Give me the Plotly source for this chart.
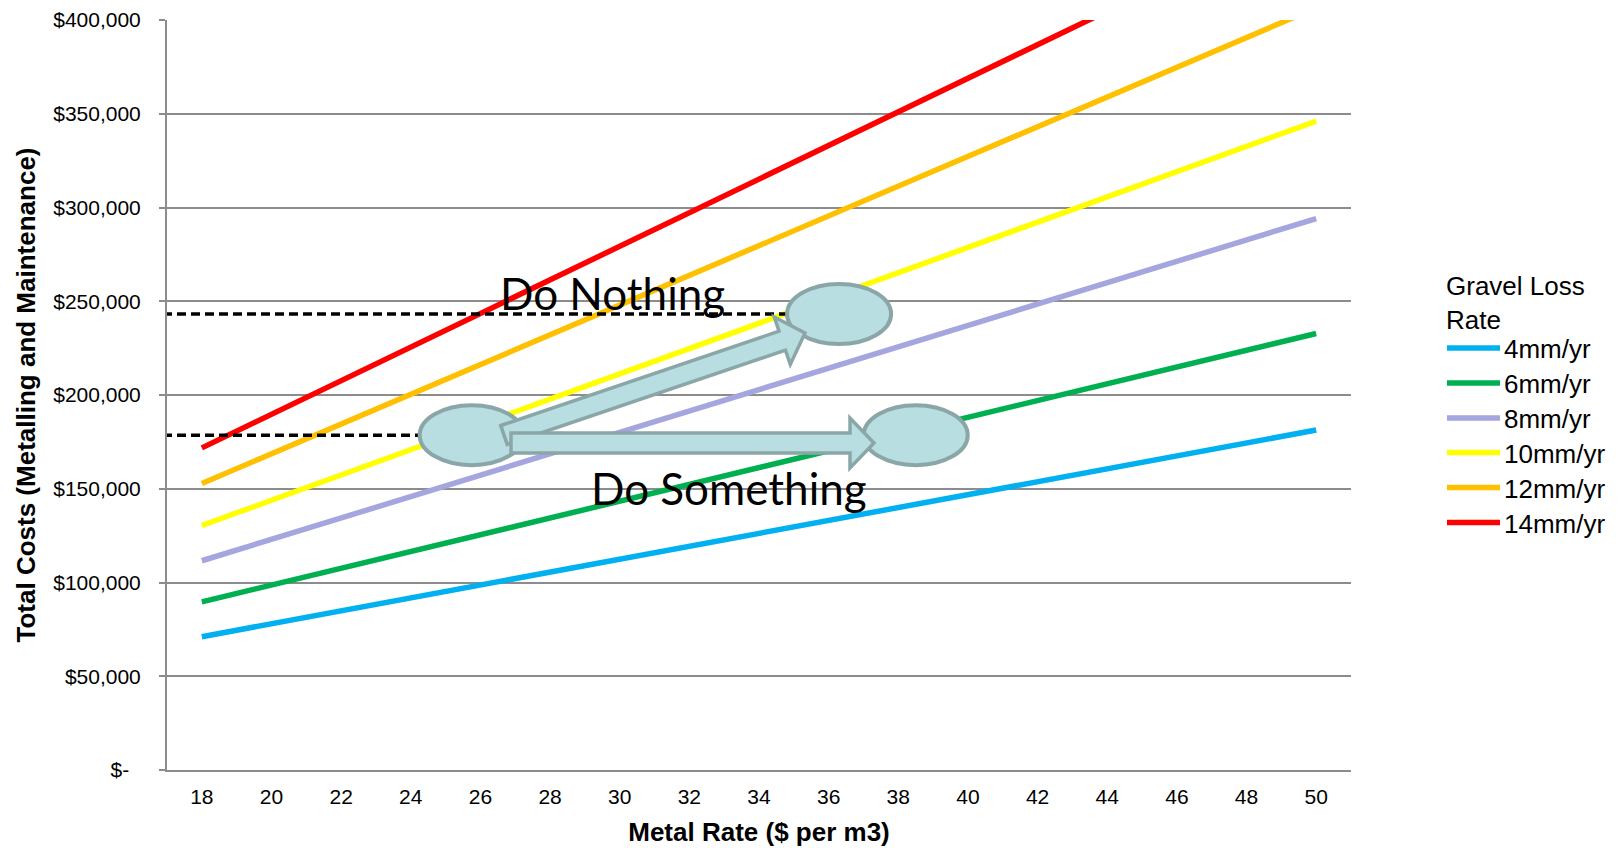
import plotly.graph_objects as go

# ---- data -------------------------------------------------------------
metal_rate = [18, 50]                      # $ per m3
loss_rates = ["4mm/yr", "6mm/yr", "8mm/yr", "10mm/yr", "12mm/yr", "14mm/yr"]
cost_4mm = [71100, 181300]
cost_6mm = [89700, 232800]
cost_8mm = [111600, 294100]
cost_10mm = [130400, 346100]
cost_12mm = [152800, 406500]
cost_14mm = [171800, 458500]
line_colors = ["#00B0F0", "#00B050", "#A5A5DF", "#FFFF00", "#FFC000", "#FF0000"]

do_nothing_cost = 243200
do_something_cost = 178600
start_rate = 25.75          # current metal rate (left ellipse)
do_nothing_rate = 36.3      # upper ellipse
do_something_rate = 38.5    # right ellipse

y_tickvals = [0, 50000, 100000, 150000, 200000, 250000, 300000, 350000, 400000]
y_ticktext = ["$-\u00a0\u00a0", "$50,000", "$100,000", "$150,000", "$200,000",
              "$250,000", "$300,000", "$350,000", "$400,000"]
x_tickvals = list(range(18, 51, 2))

# ---- geometry of the plotting area (pixels) --------------------------
W, H = 1624, 848
ML, MR, MT, MB = 167, 273, 20, 78
PX_L, PX_R, PY_T, PY_B = ML, W - MR, MT, H - MB
X0, X1 = 17, 51
Y0, Y1 = 0, 400000


def px_x(px):
    return X0 + (px - PX_L) / (PX_R - PX_L) * (X1 - X0)


def px_y(py):
    return Y0 + (PY_B - py) / (PY_B - PY_T) * (Y1 - Y0)


def x_px(x):
    return PX_L + (x - X0) / (X1 - X0) * (PX_R - PX_L)


def y_px(y):
    return PY_B - (y - Y0) / (Y1 - Y0) * (PY_B - PY_T)


def paper_x(px):
    return (px - PX_L) / (PX_R - PX_L)


def paper_y(py):
    return (PY_B - py) / (PY_B - PY_T)


series = [cost_4mm, cost_6mm, cost_8mm, cost_10mm, cost_12mm, cost_14mm]

fig = go.Figure()
for name, vals, col in zip(loss_rates, series, line_colors):
    fig.add_trace(go.Scatter(x=metal_rate, y=vals, mode="lines", name=name,
                             line=dict(color=col, width=5.5), showlegend=False))

shapes = []
grey_edge = "#8BA6A6"
bubble_fill = "#B8DEE1"

# dashed reference levels
dash_style = dict(color="black", width=3.5, dash="9px,5px")
shapes.append(dict(type="line", xref="x", yref="y", x0=px_x(163), x1=do_nothing_rate,
                   y0=do_nothing_cost, y1=do_nothing_cost, line=dash_style))
shapes.append(dict(type="line", xref="x", yref="y", x0=px_x(163), x1=start_rate,
                   y0=do_something_cost, y1=do_something_cost, line=dash_style))

# ellipses
RX, RY = 52, 30
for cx, cy in [(start_rate, do_something_cost), (do_nothing_rate, do_nothing_cost),
               (do_something_rate, do_something_cost)]:
    pcx, pcy = x_px(cx), y_px(cy)
    shapes.append(dict(type="circle", xref="x", yref="y",
                       x0=px_x(pcx - RX), x1=px_x(pcx + RX),
                       y0=px_y(pcy + RY), y1=px_y(pcy - RY),
                       fillcolor=bubble_fill, line=dict(color=grey_edge, width=4)))


def block_arrow(sx, sy, tx, ty, bw=10, hw=25, hl=24):
    dx, dy = tx - sx, ty - sy
    ln = (dx * dx + dy * dy) ** 0.5
    ux, uy = dx / ln, dy / ln
    nx, ny = uy, -ux
    bx, by = tx - ux * hl, ty - uy * hl
    pts = [(sx + nx * bw, sy + ny * bw), (bx + nx * bw, by + ny * bw),
           (bx + nx * hw, by + ny * hw), (tx, ty),
           (bx - nx * hw, by - ny * hw), (bx - nx * bw, by - ny * bw),
           (sx - nx * bw, sy - ny * bw)]
    path = "M " + " L ".join(f"{px_x(p[0])},{px_y(p[1])}" for p in pts) + " Z"
    return dict(type="path", xref="x", yref="y", path=path,
                fillcolor=bubble_fill, line=dict(color=grey_edge, width=3.5))


shapes.append(block_arrow(504, 435, 805, 333))
shapes.append(block_arrow(511, 443, 874, 443))

# legend swatches
legend_y = [348, 383, 418, 452.5, 487.5, 522.5]
for col, ly in zip(line_colors, legend_y):
    shapes.append(dict(type="line", xref="paper", yref="paper",
                       x0=paper_x(1447), x1=paper_x(1500), y0=paper_y(ly), y1=paper_y(ly),
                       line=dict(color=col, width=5.5)))

annotations = []
for name, ly in zip(loss_rates, legend_y):
    annotations.append(dict(xref="paper", yref="paper", x=paper_x(1502), y=paper_y(ly + 1),
                            text=name, showarrow=False, xanchor="left", yanchor="middle",
                            font=dict(family="Liberation Sans, Arial", size=26, color="black")))
annotations.append(dict(xref="paper", yref="paper", x=paper_x(1444), y=paper_y(303),
                        text="Gravel Loss<br>Rate", showarrow=False, xanchor="left",
                        yanchor="middle", align="left",
                        font=dict(family="Liberation Sans, Arial", size=26, color="black")))

callout_font = dict(family="Lato, Open Sans, sans-serif", size=44, color="black")
annotations.append(dict(xref="x", yref="y", x=px_x(612), y=px_y(293), text="Do Nothing",
                        showarrow=False, xanchor="center", yanchor="middle", font=callout_font))
annotations.append(dict(xref="x", yref="y", x=px_x(729), y=px_y(488), text="Do Something",
                        showarrow=False, xanchor="center", yanchor="middle", font=callout_font))

axis_grey = "#8C8C8C"
fig.update_layout(
    width=W, height=H,
    margin=dict(l=ML, r=MR, t=MT, b=MB, pad=0),
    paper_bgcolor="white", plot_bgcolor="white",
    shapes=shapes, annotations=annotations,
    showlegend=False,
    font=dict(family="Liberation Sans, Arial", color="black"),
    xaxis=dict(range=[X0, X1], tickmode="array", tickvals=x_tickvals,
               showgrid=False, zeroline=False, showline=True, linecolor=axis_grey,
               linewidth=2, ticks="", tickfont=dict(size=21, color="black"),
               ticklabelstandoff=7, automargin=False,
               title=dict(text="<b>Metal Rate ($ per m3)</b>",
                          font=dict(size=26, color="black"), standoff=16)),
    yaxis=dict(range=[Y0, Y1], tickmode="array", tickvals=y_tickvals, ticktext=y_ticktext,
               showgrid=True, gridcolor=axis_grey, gridwidth=2, zeroline=False,
               showline=True, linecolor=axis_grey, linewidth=2,
               ticks="outside", ticklen=6, tickwidth=2, tickcolor=axis_grey,
               tickfont=dict(size=21, color="black"), ticklabelstandoff=14,
               automargin=False,
               title=dict(text="<b>Total Costs (Metalling and Maintenance)</b>",
                          font=dict(size=26, color="black"), standoff=10)),
)

fig.write_html("out.html")
